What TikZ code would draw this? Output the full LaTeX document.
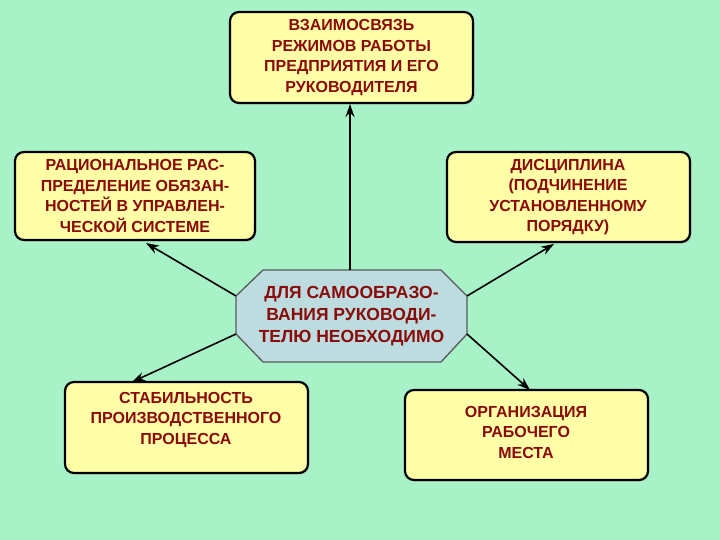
\documentclass[tikz,border=0pt]{standalone}
\usepackage{fontspec}
\setmainfont{Liberation Sans}
\usetikzlibrary{arrows.meta,shadows}
\definecolor{bg}{HTML}{A8F2C8}
\definecolor{boxy}{HTML}{FFFFA8}
\definecolor{oct}{HTML}{BCDCE0}
\definecolor{txt}{HTML}{8A0A0A}
\tikzset{
 box/.style={draw=black,line width=2.2pt,fill=boxy,rounded corners=9pt,
   drop shadow={shadow xshift=1.5pt,shadow yshift=-1.5pt,fill=gray!60}},
 lbl/.style={text=txt,font=\bfseries\fontsize{16}{20.5}\selectfont,align=center},
 arr/.style={draw=black,line width=1.6pt,-{Stealth[length=13pt,width=9pt]}},
}
\begin{document}
\begin{tikzpicture}[x=1pt,y=-1pt]
\fill[bg] (0,0) rectangle (720,540);
\useasboundingbox (0,0) rectangle (720,540);
\draw[box] (230,12) rectangle (473,103);
\draw[box] (15,152) rectangle (255,240);
\draw[box] (447,152) rectangle (690,242);
\draw[box] (65,382) rectangle (308,473);
\draw[box] (405,390) rectangle (648,480);
\node[lbl] (top) at (351.5,57.5) {ВЗАИМОСВЯЗЬ\\РЕЖИМОВ РАБОТЫ\\ПРЕДПРИЯТИЯ И ЕГО\\РУКОВОДИТЕЛЯ};
\node[lbl] (lt) at (135,196) {РАЦИОНАЛЬНОЕ РАС-\\ПРЕДЕЛЕНИЕ ОБЯЗАН-\\НОСТЕЙ В УПРАВЛЕН-\\ЧЕСКОЙ СИСТЕМЕ};
\node[lbl] (rt) at (568,197) {ДИСЦИПЛИНА\\(ПОДЧИНЕНИЕ\\УСТАНОВЛЕННОМУ\\ПОРЯДКУ)};
\node[lbl] (lb) at (186,420) {СТАБИЛЬНОСТЬ\\ПРОИЗВОДСТВЕННОГО\\ПРОЦЕССА};
\node[lbl] (rb) at (526,432) {ОРГАНИЗАЦИЯ\\РАБОЧЕГО\\МЕСТА};
\coordinate (o1) at (263,270); \coordinate (o2) at (441,270);
\coordinate (o3) at (467,296); \coordinate (o4) at (467,334);
\coordinate (o5) at (441,362); \coordinate (o6) at (263,362);
\coordinate (o7) at (236,334); \coordinate (o8) at (236,296);
\draw[draw=gray!70!black,line width=1.3pt,fill=oct] (o1)--(o2)--(o3)--(o4)--(o5)--(o6)--(o7)--(o8)--cycle;
\node[lbl,font=\bfseries\fontsize{17.5}{22}\selectfont] (c) at (351.5,316) {ДЛЯ САМООБРАЗО-\\ВАНИЯ РУКОВОДИ-\\ТЕЛЮ НЕОБХОДИМО};
\coordinate (ct) at (350,270); \coordinate (tb) at (350,104);
\coordinate (la) at (146,243); \coordinate (ra) at (554,244);
\coordinate (lba) at (132,382); \coordinate (rba) at (530,390);
\draw[arr] (ct) -- (tb);
\draw[arr] (o8) -- (la);
\draw[arr] (o3) -- (ra);
\draw[arr] (o7) -- (lba);
\draw[arr] (o4) -- (rba);
\end{tikzpicture}
\end{document}
